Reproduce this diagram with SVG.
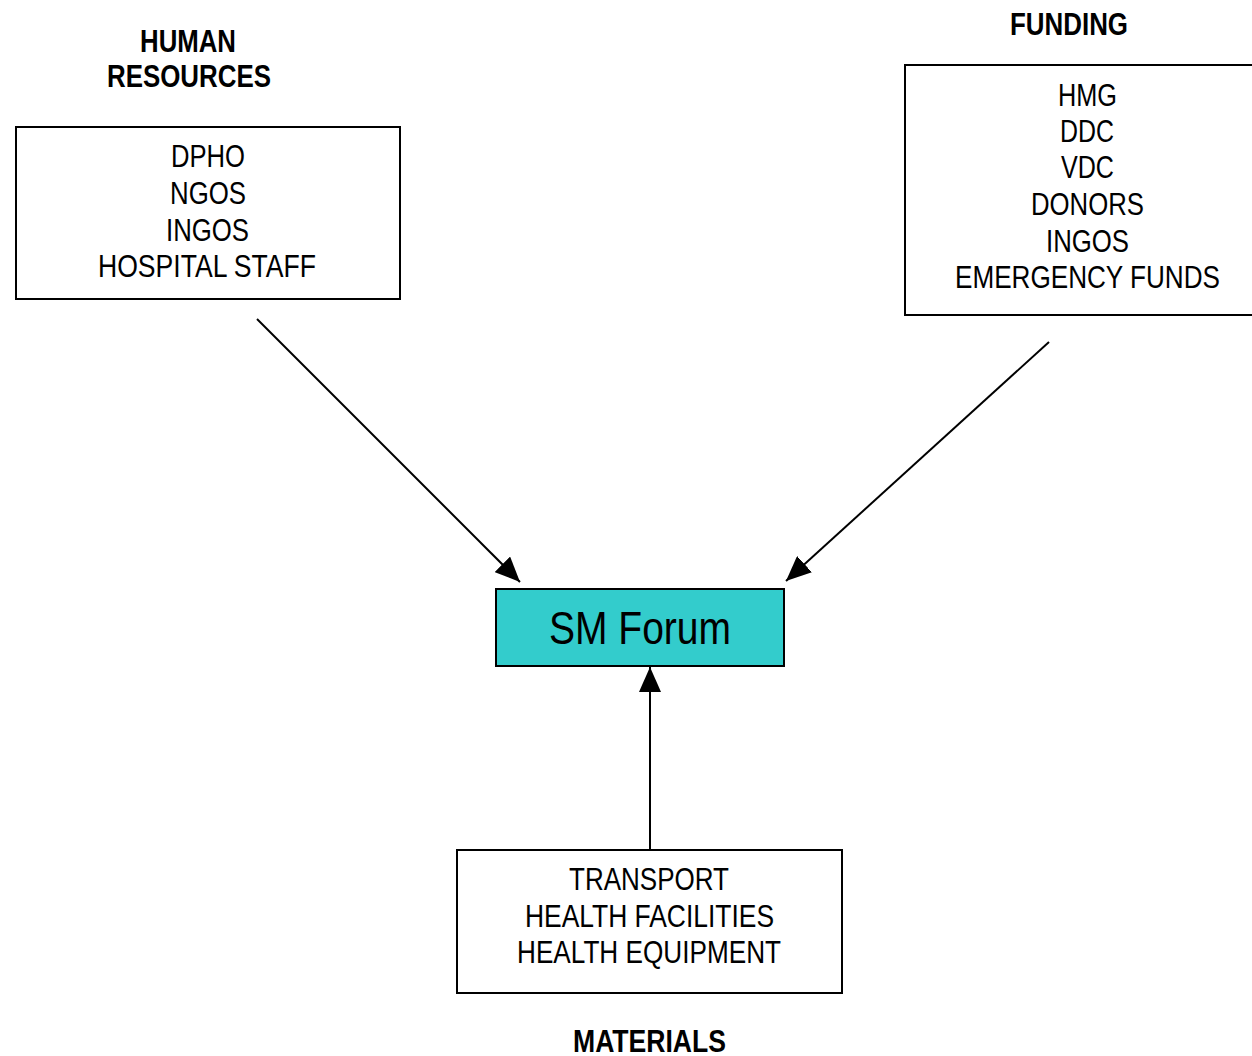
<svg xmlns="http://www.w3.org/2000/svg" width="1252" height="1056" viewBox="0 0 1252 1056">
  <style>
    text { font-family: "Liberation Sans", Arial, sans-serif; fill: #000; text-anchor: middle; }
    .item { font-size: 31.5px; }
    .title { font-size: 31px; font-weight: bold; }
    .main { font-size: 46px; }
    .box { fill: #fff; stroke: #000; stroke-width: 2; }
    .hub { fill: #33CCCC; stroke: #000; stroke-width: 2; }
    .conn { stroke: #000; stroke-width: 2; fill: none; marker-end: url(#arrow); }
  </style>
  <defs>
    <marker id="arrow" markerUnits="userSpaceOnUse" markerWidth="26" markerHeight="22" refX="25" refY="11" orient="auto">
      <path d="M0,0 L25,11 L0,22 Z" fill="#000"/>
    </marker>
  </defs>
  <rect width="1252" height="1056" fill="#fff"/>

  <!-- Connectors -->
  <g id="connectors">
    <line class="conn" x1="257" y1="319" x2="520" y2="582"/>
    <line class="conn" x1="1049" y1="342" x2="786" y2="581"/>
    <line class="conn" x1="650" y1="849" x2="650" y2="667"/>
  </g>

  <!-- Human resources -->
  <g id="human-resources">
    <text class="title" x="188" y="52" textLength="96" lengthAdjust="spacingAndGlyphs">HUMAN</text>
    <text class="title" x="189" y="87" textLength="164" lengthAdjust="spacingAndGlyphs">RESOURCES</text>
    <rect class="box" x="16" y="127" width="384" height="172"/>
    <text class="item" x="208" y="167" textLength="74" lengthAdjust="spacingAndGlyphs">DPHO</text>
    <text class="item" x="208" y="204" textLength="76" lengthAdjust="spacingAndGlyphs">NGOS</text>
    <text class="item" x="207.5" y="241" textLength="83" lengthAdjust="spacingAndGlyphs">INGOS</text>
    <text class="item" x="207" y="277" textLength="218" lengthAdjust="spacingAndGlyphs">HOSPITAL STAFF</text>
  </g>

  <!-- Funding -->
  <g id="funding">
    <text class="title" x="1069" y="35" textLength="118" lengthAdjust="spacingAndGlyphs">FUNDING</text>
    <rect class="box" x="905" y="65" width="360" height="250"/>
    <text class="item" x="1087.5" y="106" textLength="59" lengthAdjust="spacingAndGlyphs">HMG</text>
    <text class="item" x="1087" y="142" textLength="54" lengthAdjust="spacingAndGlyphs">DDC</text>
    <text class="item" x="1087.5" y="178" textLength="53" lengthAdjust="spacingAndGlyphs">VDC</text>
    <text class="item" x="1087.5" y="215" textLength="113" lengthAdjust="spacingAndGlyphs">DONORS</text>
    <text class="item" x="1087.5" y="252" textLength="83" lengthAdjust="spacingAndGlyphs">INGOS</text>
    <text class="item" x="1087.5" y="288" textLength="265" lengthAdjust="spacingAndGlyphs">EMERGENCY FUNDS</text>
  </g>

  <!-- Central forum -->
  <g id="sm-forum">
    <rect class="hub" x="496" y="589" width="288" height="77"/>
    <text class="main" x="640" y="644" textLength="182" lengthAdjust="spacingAndGlyphs">SM Forum</text>
  </g>

  <!-- Materials -->
  <g id="materials">
    <rect class="box" x="457" y="850" width="385" height="143"/>
    <text class="item" x="649" y="890" textLength="160" lengthAdjust="spacingAndGlyphs">TRANSPORT</text>
    <text class="item" x="649.5" y="927" textLength="249" lengthAdjust="spacingAndGlyphs">HEALTH FACILITIES</text>
    <text class="item" x="649" y="963" textLength="264" lengthAdjust="spacingAndGlyphs">HEALTH EQUIPMENT</text>
    <text class="title" x="649.5" y="1052" textLength="153" lengthAdjust="spacingAndGlyphs">MATERIALS</text>
  </g>
</svg>
